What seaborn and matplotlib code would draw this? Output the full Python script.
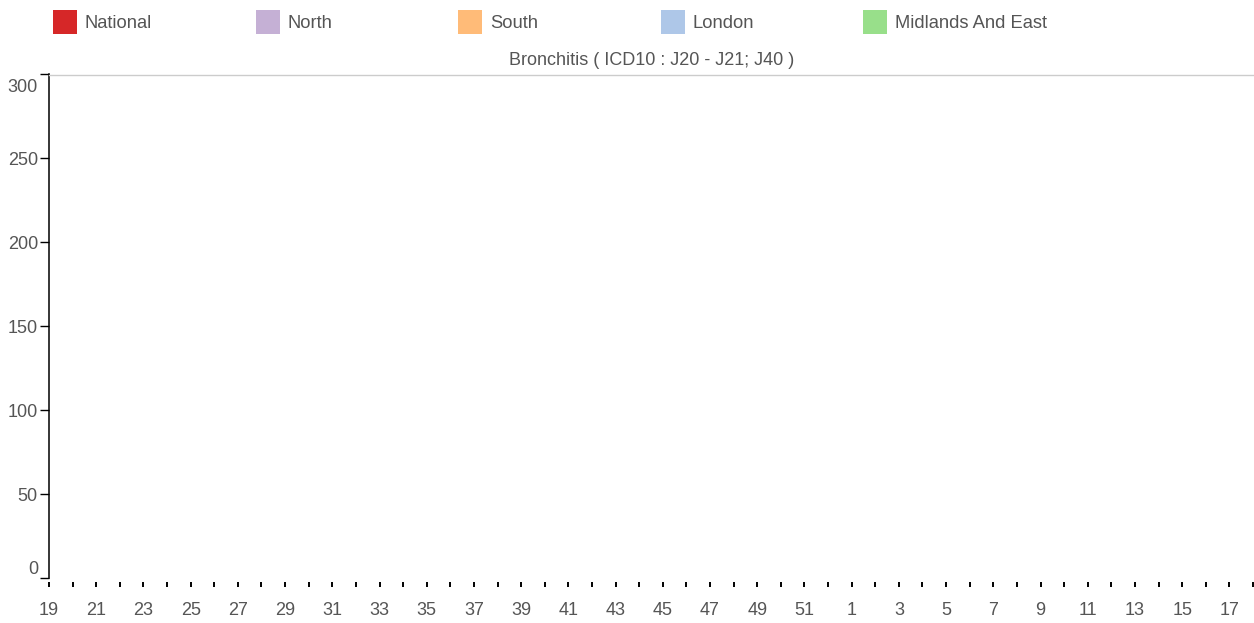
import matplotlib
matplotlib.use("Agg")
import matplotlib.pyplot as plt
from matplotlib.patches import Rectangle
from matplotlib.transforms import ScaledTranslation
import seaborn as sns
import pandas as pd
import numpy as np

# ---- data ----
weeks = list(range(19, 53)) + list(range(1, 19))
regions = ["National", "North", "South", "London", "Midlands And East"]
colors = ["#d62728", "#c5b0d5", "#ffbb78", "#aec7e8", "#98df8a"]
title = "Bronchitis ( ICD10 : J20 - J21; J40 )"
y_ticks = [0, 50, 100, 150, 200, 250, 300]
# no values are plotted in the reference chart (empty series)
national = []
north = []
south = []
london = []
midlands_east = []

sns.set_style("white")
plt.rcParams['font.family'] = ['Liberation Sans', 'DejaVu Sans']

W, H = 1254, 623
fig = plt.figure(figsize=(W / 100, H / 100), dpi=100)
ax = fig.add_axes([49 / W, (H - 578) / H, (1253 - 49) / W, (578 - 74.5) / H])

series = {"National": national, "North": north, "South": south,
          "London": london, "Midlands And East": midlands_east}
rows = []
for name, vals in series.items():
    for i, v in enumerate(vals):
        rows.append({"idx": i, "value": v, "region": name})
df = pd.DataFrame(rows, columns=["idx", "value", "region"])
if len(df):
    sns.lineplot(data=df, x="idx", y="value", hue="region",
                 palette=dict(zip(regions, colors)), legend=False, ax=ax)

txt = "#555555"
ax.set_xlim(0, len(weeks) - 1)
ax.set_ylim(0, 300)

ax.set_xticks(range(len(weeks)))
ax.set_xticklabels([str(w) if i % 2 == 0 else "" for i, w in enumerate(weeks)])
ax.set_yticks(y_ticks)
ax.set_yticklabels([str(v) for v in y_ticks])

ax.spines["right"].set_visible(False)
ax.spines["top"].set_color("#cccccc")
ax.spines["top"].set_linewidth(1.0)
ax.spines["left"].set_color("black")
ax.spines["left"].set_linewidth(1.1)
ax.spines["bottom"].set_position(("outward", 2.9))
ax.spines["bottom"].set_visible(False)

ax.tick_params(axis="x", direction="out", length=3.6, width=1.4, color="black",
               labelsize=13, labelcolor=txt, pad=10.5, bottom=True)
ax.tick_params(axis="y", direction="out", length=6.5, width=1.0, color="black",
               labelsize=13, labelcolor=txt, pad=1.5, left=True)
ax.set_xlabel("")
ax.set_ylabel("")

labels = ax.get_yticklabels()
labels[0].set_transform(labels[0].get_transform() + ScaledTranslation(0, 0.105, fig.dpi_scale_trans))
labels[-1].set_transform(labels[-1].get_transform() + ScaledTranslation(0, -0.11, fig.dpi_scale_trans))

# title
fig.text(652 / W, 1 - 60.5 / H, title, ha="center", va="center", fontsize=13, color=txt)

# legend
for i, (name, c) in enumerate(zip(regions, colors)):
    x0 = 53 + i * 202.5
    fig.add_artist(Rectangle((x0 / W, 1 - 34 / H), 24 / W, 24 / H,
                             transform=fig.transFigure, color=c, lw=0))
    fig.text((x0 + 32) / W, 1 - 23 / H, name, ha="left", va="center",
             fontsize=13.2, color=txt)

fig.savefig("out.png", dpi=100)
